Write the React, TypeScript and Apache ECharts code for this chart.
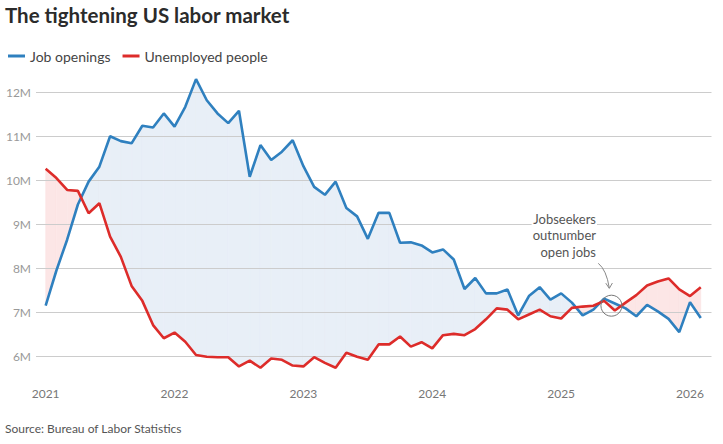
import React, { useEffect, useRef } from "react";
import * as echarts from "echarts";

// Monthly values, Jan 2021 .. Feb 2026 (millions)
const startYear = 2021;
const jobOpenings = [
  7.15, 7.95, 8.65, 9.45, 9.97, 10.31, 11.0, 10.89, 10.84, 11.24, 11.2, 11.52,
  11.22, 11.67, 12.3, 11.82, 11.52, 11.3, 11.58, 10.08, 10.8, 10.46, 10.65, 10.91,
  10.32, 9.85, 9.67, 9.97, 9.37, 9.18, 8.67, 9.26, 9.26, 8.58, 8.59, 8.52,
  8.36, 8.43, 8.2, 7.53, 7.78, 7.43, 7.43, 7.52, 6.93, 7.37, 7.57, 7.29,
  7.43, 7.22, 6.93, 7.06, 7.31, 7.2, 7.09, 6.91, 7.17, 7.02, 6.85, 6.55,
  7.23, 6.87,
];
const unemployed = [
  10.26, 10.05, 9.78, 9.76, 9.25, 9.48, 8.72, 8.26, 7.6, 7.26, 6.71, 6.41,
  6.54, 6.33, 6.03, 5.99, 5.98, 5.98, 5.77, 5.9, 5.74, 5.95, 5.92, 5.79,
  5.77, 5.98, 5.85, 5.74, 6.08, 5.99, 5.92, 6.27, 6.27, 6.45, 6.22, 6.32,
  6.18, 6.48, 6.51, 6.48, 6.62, 6.84, 7.09, 7.06, 6.84, 6.95, 7.06, 6.91,
  6.86, 7.1, 7.13, 7.15, 7.26, 7.04, 7.22, 7.39, 7.61, 7.7, 7.77, 7.52,
  7.37, 7.57,
];
const yearTickMonths = [0, 12, 24, 36, 48, 60];
const yTickValues = [6, 7, 8, 9, 10, 11, 12];
const crossingMark = [52.68, 7.15];
const seriesNames = ["Job openings", "Unemployed people"];

const BLUE = "#2f80bf";
const RED = "#dd2c2a";
const BLUE_FILL = "#e8eff7";
const RED_FILL = "#fce6e6";
const FONT = "Lato, 'Noto Sans', sans-serif";

function buildSegments(b: number[], r: number[]) {
  const pts: number[][] = [];
  for (let i = 0; i < b.length; i++) {
    pts.push([i, b[i], r[i]]);
    if (i < b.length - 1) {
      const d0 = b[i] - r[i];
      const d1 = b[i + 1] - r[i + 1];
      if (d0 * d1 < 0) {
        const t = d0 / (d0 - d1);
        const v = b[i] + t * (b[i + 1] - b[i]);
        pts.push([i + t, v, v]);
      }
    }
  }
  const segs: number[][] = [];
  for (let k = 0; k < pts.length - 1; k++) {
    const a = pts[k];
    const c = pts[k + 1];
    const sign = a[1] - a[2] + (c[1] - c[2]) >= 0 ? 1 : -1;
    segs.push([a[0], a[1], a[2], c[0], c[1], c[2], sign]);
  }
  return segs;
}

export default function App() {
  const ref = useRef<HTMLDivElement>(null);

  useEffect(() => {
    document.body.style.margin = "0";
    if (!ref.current) return;
    const chart = echarts.init(ref.current, null, { renderer: "svg" });
    const segs = buildSegments(jobOpenings, unemployed);

    chart.setOption({
      animation: false,
      backgroundColor: "#ffffff",
      textStyle: { fontFamily: FONT },
      grid: { left: 36, right: 11.5, top: 70.3, bottom: 65.7, containLabel: false },
      legend: {
        data: seriesNames,
        left: 3,
        top: 44,
        icon: "rect",
        itemWidth: 17,
        itemHeight: 3,
        itemGap: 12,
        textStyle: { fontSize: 14, color: "#444", fontFamily: FONT },
        selectedMode: false,
      },
      xAxis: {
        type: "value",
        min: -0.9,
        max: 62,
        axisLine: { show: false },
        axisTick: { show: false },
        splitLine: { show: false },
        axisLabel: {
          customValues: yearTickMonths,
          formatter: (v: number) => String(startYear + Math.round(v / 12)),
          fontSize: 12,
          color: "#777",
          margin: 9,
          fontFamily: FONT,
        },
      },
      yAxis: {
        type: "value",
        min: 5.5,
        max: 12.5,
        axisLine: { show: false },
        axisTick: { show: false },
        splitLine: { show: false },
        axisLabel: {
          customValues: yTickValues,
          formatter: (v: number) => `${v}M`,
          fontSize: 12,
          color: "#999",
          margin: 5,
          fontFamily: FONT,
        },
      },
      series: [
        {
          type: "custom",
          z: 1,
          silent: true,
          data: segs,
          encode: { x: [0, 3], y: [1, 2, 4, 5] },
          renderItem: (params: any, api: any) => {
            const p0 = api.coord([api.value(0), api.value(1)]);
            const p1 = api.coord([api.value(3), api.value(4)]);
            const p2 = api.coord([api.value(3), api.value(5)]);
            const p3 = api.coord([api.value(0), api.value(2)]);
            const fill = api.value(6) > 0 ? BLUE_FILL : RED_FILL;
            return {
              type: "polygon",
              shape: { points: [p0, p1, p2, p3] },
              style: { fill, stroke: fill, lineWidth: 0.6 },
            };
          },
        },
        {
          name: seriesNames[0],
          type: "line",
          z: 3,
          data: jobOpenings.map((v, i) => [i, v]),
          showSymbol: false,
          symbol: "none",
          itemStyle: { color: BLUE },
          lineStyle: { color: BLUE, width: 2.6 },
          markLine: {
            silent: true,
            z: 2,
            symbol: ["none", "none"],
            label: { show: false },
            lineStyle: { color: "#cccccc", width: 1, type: "solid" },
            emphasis: { disabled: true },
            data: yTickValues.map((v) => ({ yAxis: v })),
          },
        },
        {
          name: seriesNames[1],
          type: "line",
          z: 3,
          data: unemployed.map((v, i) => [i, v]),
          showSymbol: false,
          symbol: "none",
          itemStyle: { color: RED },
          lineStyle: { color: RED, width: 2.6 },
          markPoint: {
            silent: true,
            z: 4,
            symbol: "circle",
            symbolSize: 21,
            label: { show: false },
            itemStyle: { color: "rgba(0,0,0,0)", borderColor: "#777", borderWidth: 1 },
            data: [{ coord: crossingMark }],
          },
        },
      ],
      graphic: [
        {
          type: "text",
          left: 5,
          top: 4,
          style: {
            text: "The tightening US labor market",
            fontSize: 20.5,
            fontWeight: "bold",
            fontFamily: FONT,
            fill: "#2b2b2b",
          },
        },
        {
          type: "text",
          z: 10,
          style: {
            text: "Jobseekers\noutnumber\nopen jobs",
            x: 597,
            y: 210.8,
            align: "right",
            verticalAlign: "top",
            fontSize: 13,
            lineHeight: 16.4,
            fontFamily: FONT,
            fill: "#555",
            backgroundColor: "#fff",
            padding: [0, 1],
          },
        },
        {
          type: "bezierCurve",
          z: 10,
          shape: { x1: 598.3, y1: 263.3, cpx1: 606.5, cpy1: 270, x2: 609.3, y2: 288 },
          style: { stroke: "#888", lineWidth: 1, fill: "none" },
        },
        {
          type: "polyline",
          z: 10,
          shape: { points: [[605.8, 283.2], [609.3, 288.4], [612.4, 283]] },
          style: { stroke: "#888", lineWidth: 1, fill: "none" },
        },
        {
          type: "text",
          left: 5,
          top: 422,
          style: {
            text: "Source: Bureau of Labor Statistics",
            fontSize: 12,
            fontFamily: FONT,
            fill: "#555",
          },
        },
      ],
    });

    return () => chart.dispose();
  }, []);

  return <div ref={ref} style={{ width: 723, height: 444 }} />;
}
